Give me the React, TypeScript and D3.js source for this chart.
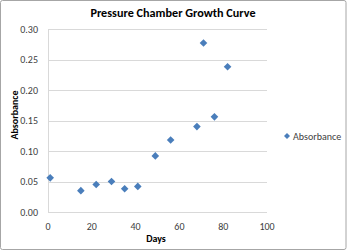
import React from "react";
import * as d3 from "d3";

const days = [1, 15, 22, 29, 35, 41, 49, 56, 68, 71, 76, 82];
const absorbance = [0.056, 0.035, 0.045, 0.05, 0.038, 0.042, 0.092, 0.118, 0.14, 0.277, 0.156, 0.238];
const xTicks = [0, 20, 40, 60, 80, 100];
const yTicks = [0, 0.05, 0.1, 0.15, 0.2, 0.25, 0.3];
const title = "Pressure Chamber Growth Curve";
const seriesName = "Absorbance";

export default function App() {
  const W = 347, H = 252;
  const x = d3.scaleLinear().domain([0, 100]).range([48, 267]);
  const y = d3.scaleLinear().domain([0, 0.3]).range([212, 29]);
  const font = "Carlito, 'Liberation Sans', Arial, sans-serif";
  const color = "#4a7ebb";
  const diamond = (cx: number, cy: number, r: number) =>
    `M${cx},${cy - r}L${cx + r},${cy}L${cx},${cy + r}L${cx - r},${cy}Z`;
  return (
    <div style={{ position: "absolute", left: 0, top: 0 }}>
      <svg width={W} height={H} style={{ display: "block" }} fontFamily={font}>
        <rect x={0} y={0} width={W} height={H} fill="#fff" />
        <rect x={0.5} y={0.5} width={345.5} height={249} rx={2} fill="none" stroke="#a6a6a6" strokeWidth={1} />
        <text x={173} y={16.5} textAnchor="middle" fontSize={12.2} fontWeight="bold" fill="#000">{title}</text>
        {yTicks.map((t) => (
          <g key={t}>
            <line x1={x(0)} x2={x(100)} y1={Math.round(y(t)) + 0.5} y2={Math.round(y(t)) + 0.5} stroke="#d9d9d9" />
            <text x={38} y={y(t)} dy="0.35em" textAnchor="end" fontSize={10} fill="#404040">{d3.format(".2f")(t)}</text>
          </g>
        ))}
        <line x1={48.5} x2={48.5} y1={y(0.3)} y2={y(0)} stroke="#d9d9d9" />
        {xTicks.map((t) => (
          <text key={t} x={x(t)} y={226} dy="0.35em" textAnchor="middle" fontSize={10} fill="#404040">{t}</text>
        ))}
        <text x={156} y={242} textAnchor="middle" fontSize={10} fontWeight="bold" fill="#000">Days</text>
        <text transform={`translate(17.5,115) rotate(-90)`} textAnchor="middle" fontSize={10} fontWeight="bold" fill="#000">{seriesName}</text>
        {days.map((d, i) => (
          <path key={i} d={diamond(x(d), y(absorbance[i]), 3.8)} fill={color} />
        ))}
        <path d={diamond(287, 136, 3)} fill={color} />
        <text x={293} y={136} dy="0.35em" fontSize={10} fill="#404040">{seriesName}</text>
      </svg>
    </div>
  );
}
